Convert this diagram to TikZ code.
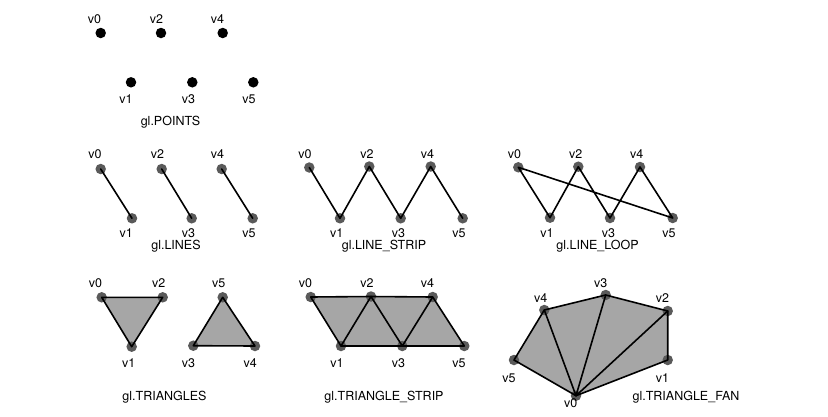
\documentclass[tikz,border=0pt]{standalone}
\usepackage{fontspec}
\setmainfont{TeX Gyre Heros}
\usepackage{xcolor}
\usepackage{tikz}
\usetikzlibrary{backgrounds}

\definecolor{dotgray}{HTML}{5A5A5A}
\definecolor{facegray}{HTML}{A6A6A6}

\begin{document}
\begin{tikzpicture}[x=1pt, y=-1pt,
  every node/.style={font=\fontsize{12.5}{14}\selectfont},
  blk/.style={circle, fill=black, inner sep=0pt, minimum size=10.5pt},
  vtx/.style={circle, fill=dotgray, inner sep=0pt, minimum size=10.5pt},
  lbl/.style={anchor=base, inner sep=0pt},
  edge/.style={line width=1.6pt, line join=round, line cap=round},
  face/.style={fill=facegray},
]
\useasboundingbox (0,0) rectangle (828,416);

% gl.POINTS
\foreach \n/\x/\y/\lx/\ly in {0/100.7/33/94.5/23, 1/131/82.3/126/103, 2/161/33/156.5/23,
    3/192.3/82.3/188.5/103, 4/222.7/33/217.5/23, 5/253.3/82.3/249/103}{
  \node[blk] (p\n) at (\x,\y) {};
  \node[lbl] (pl\n) at (\lx,\ly) {v\n};
}
\node[lbl] (ptitle) at (170.5,125.5) {gl.POINTS};

% gl.LINES
\foreach \n/\x/\y/\lx/\ly in {0/100.7/169/95/158, 1/132/218.3/126.3/237, 2/161.7/169/157.5/158,
    3/191.7/218.3/188.5/237, 4/221.7/169/217.5/158, 5/252.7/218.3/249/237}{
  \node[vtx] (l\n) at (\x,\y) {};
  \node[lbl] (ll\n) at (\lx,\ly) {v\n};
}
\draw[edge] (l0.center) -- (l1.center);
\draw[edge] (l2.center) -- (l3.center);
\draw[edge] (l4.center) -- (l5.center);
\node[lbl] (ltitle) at (176,249) {gl.LINES};

% gl.LINE_STRIP
\foreach \n/\x/\y/\lx/\ly in {0/309.3/167.5/305/158, 1/340/218.3/336.7/237, 2/369.3/166.5/367/158,
    3/400.7/218.3/398.5/237, 4/430.7/166.5/427.5/158, 5/462.7/218.3/459/237}{
  \node[vtx] (s\n) at (\x,\y) {};
  \node[lbl] (sl\n) at (\lx,\ly) {v\n};
}
\draw[edge] (s0.center) -- (s1.center) -- (s2.center) -- (s3.center) -- (s4.center) -- (s5.center);
\node[lbl] (stitle) at (384,249) {gl.LINE\_STRIP};

% gl.LINE_LOOP
\foreach \n/\x/\y/\lx/\ly in {0/518.3/167.3/514.5/158, 1/550/217.7/547/237, 2/578.3/166.7/575.8/158,
    3/610/218/608.5/237, 4/640/167/636.7/158, 5/672.7/218/669/237}{
  \node[vtx] (o\n) at (\x,\y) {};
  \node[lbl] (ol\n) at (\lx,\ly) {v\n};
}
\draw[edge] (o0.center) -- (o1.center) -- (o2.center) -- (o3.center) -- (o4.center) -- (o5.center) -- cycle;
\node[lbl] (otitle) at (597.5,249) {gl.LINE\_LOOP};

% gl.TRIANGLES
\foreach \n/\x/\y/\lx/\ly in {0/101.7/297.3/95.5/287, 1/131.7/346.7/128.7/367, 2/162.7/297.3/158.8/287,
    3/193.3/345.7/188.5/367, 4/255/346/250.3/367, 5/222.7/297.3/218.8/287}{
  \node[vtx] (t\n) at (\x,\y) {};
  \node[lbl] (tl\n) at (\lx,\ly) {v\n};
}
\begin{pgfonlayer}{background}
  \fill[face] (t0.center) -- (t1.center) -- (t2.center) -- cycle;
  \fill[face] (t3.center) -- (t4.center) -- (t5.center) -- cycle;
\end{pgfonlayer}
\draw[edge] (t0.center) -- (t1.center) -- (t2.center) -- cycle;
\draw[edge] (t3.center) -- (t4.center) -- (t5.center) -- cycle;
\node[lbl] (ttitle) at (164.5,400) {gl.TRIANGLES};

% gl.TRIANGLE_STRIP
\foreach \n/\x/\y/\lx/\ly in {0/310.7/297/305.5/287, 1/341/346/337/367, 2/371/296.5/367/287,
    3/402.3/346/398.5/367, 4/432.7/297/427.5/287, 5/464.3/346/459/367}{
  \node[vtx] (r\n) at (\x,\y) {};
  \node[lbl] (rl\n) at (\lx,\ly) {v\n};
}
\begin{pgfonlayer}{background}
  \fill[face] (r0.center) -- (r2.center) -- (r4.center) -- (r5.center) -- (r3.center) -- (r1.center) -- cycle;
\end{pgfonlayer}
\draw[edge] (r0.center) -- (r2.center) -- (r4.center) -- (r5.center) -- (r3.center) -- (r1.center) -- cycle;
\draw[edge] (r1.center) -- (r2.center) -- (r3.center) -- (r4.center);
\node[lbl] (rtitle) at (384,400) {gl.TRIANGLE\_STRIP};

% gl.TRIANGLE_FAN
\foreach \n/\x/\y/\lx/\ly in {0/576/395.7/570.8/407, 1/667.7/360/662.5/382, 2/667.7/311/662.5/302,
    3/605.7/295/600.8/287, 4/544.3/310/540.8/302, 5/514/360/509/382}{
  \node[vtx] (f\n) at (\x,\y) {};
  \node[lbl] (fl\n) at (\lx,\ly) {v\n};
}
\begin{pgfonlayer}{background}
  \fill[face] (f0.center) -- (f1.center) -- (f2.center) -- (f3.center) -- (f4.center) -- (f5.center) -- cycle;
\end{pgfonlayer}
\draw[edge] (f0.center) -- (f1.center) -- (f2.center) -- (f3.center) -- (f4.center) -- (f5.center) -- cycle;
\draw[edge] (f0.center) -- (f2.center);
\draw[edge] (f0.center) -- (f3.center);
\draw[edge] (f0.center) -- (f4.center);
\node[lbl] (ftitle) at (686,400) {gl.TRIANGLE\_FAN};
\end{tikzpicture}
\end{document}
